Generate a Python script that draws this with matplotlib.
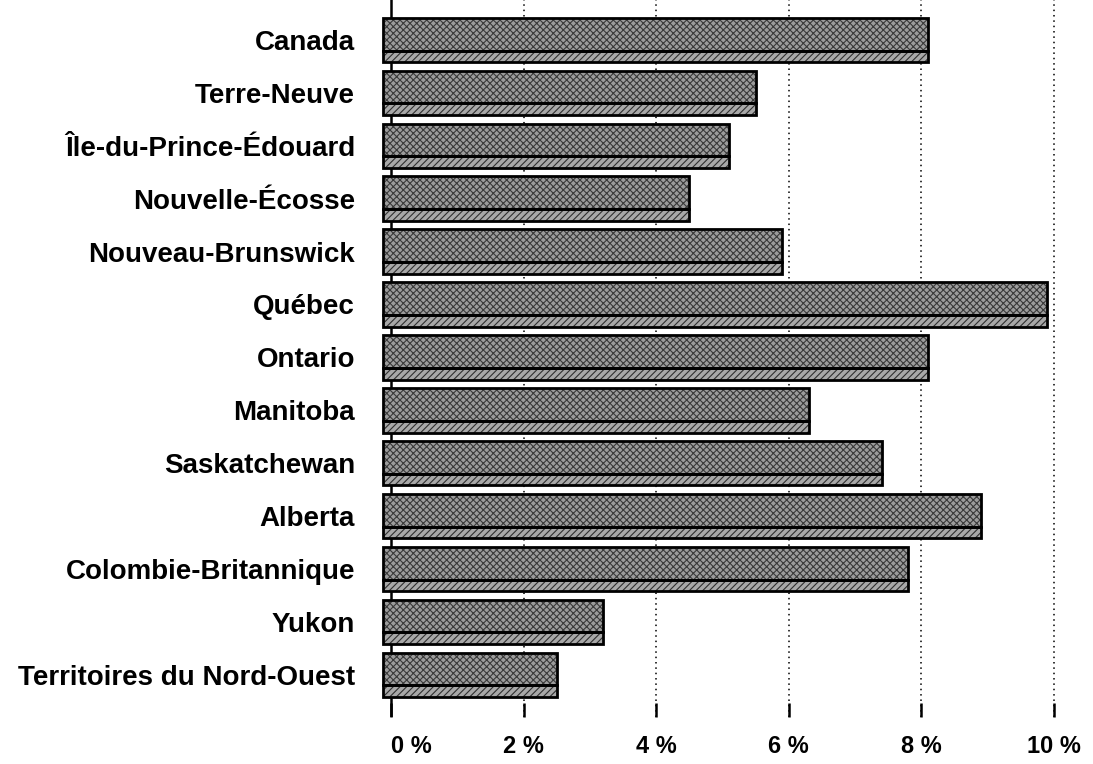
import matplotlib.pyplot as plt
import numpy as np

provinces = [
  'Canada',
  'Terre-Neuve',
  'Île-du-Prince-Édouard',
  'Nouvelle-Écosse',
  'Nouveau-Brunswick',
  'Québec',
  'Ontario',
  'Manitoba',
  'Saskatchewan',
  'Alberta',
  'Colombie-Britannique',
  'Yukon',
  'Territoires du Nord-Ouest',
]
rates = [8.1, 5.5, 5.1, 4.5, 5.9, 9.9, 8.1, 6.3, 7.4, 8.9, 7.8, 3.2, 2.5]
ticks = [0, 2, 4, 6, 8, 10]
tick_labels = ['0 %', '2 %', '4 %', '6 %', '8 %', '10 %']

plt.rcParams['font.family'] = ['Liberation Sans', 'DejaVu Sans']
plt.rcParams['hatch.linewidth'] = 0.8

W, H = 1093, 764
fig = plt.figure(figsize=(W / 100, H / 100), dpi=100)
# axes in pixel terms: 0 % at x=391, 10 % at x=1054
ax = fig.add_axes([380 / W, (H - 717) / H, (1064 - 380) / W, 717 / H])

px_per_unit = (1054 - 391) / 10
ax.set_xlim(-(391 - 380) / px_per_unit, 10 + (1064 - 1054) / px_per_unit)
ax.set_ylim((717 - 40) / 52.9, -40 / 52.9)

y = np.arange(len(provinces))
widths = np.array(rates)
face_h = 0.62
shadow_h = 0.22
x0 = -0.12

# front face
ax.barh(y - shadow_h / 2, widths - x0, left=x0, height=face_h,
        color='#9c9c9c', hatch='xxxxx', edgecolor='#3a3a3a', linewidth=0, zorder=3)
ax.barh(y - shadow_h / 2, widths - x0, left=x0, height=face_h,
        facecolor='none', edgecolor='black', linewidth=2.0, zorder=4)
# lower strip (3D depth)
ax.barh(y + face_h / 2, widths - x0, left=x0, height=shadow_h,
        color='#a8a8a8', hatch='/////', edgecolor='#303030', linewidth=0, zorder=3)
ax.barh(y + face_h / 2, widths - x0, left=x0, height=shadow_h,
        facecolor='none', edgecolor='black', linewidth=2.0, zorder=4)

for t in ticks[1:]:
  ax.axvline(t, color='black', linestyle=(0, (1, 2.5)), linewidth=1.1, zorder=1)
ax.axvline(0, color='black', linewidth=1.8, zorder=2)

ax.set_xticks(ticks)
ax.set_xticklabels(tick_labels, fontsize=17, fontweight='bold')
ax.tick_params(axis='x', direction='in', length=10, width=1.8, pad=13)
ax.set_yticks(y)
ax.set_yticklabels(provinces, fontsize=20, fontweight='bold')
ax.tick_params(axis='y', length=0, pad=18)
ax.get_xticklabels()[0].set_ha('left')

for s in ax.spines.values():
  s.set_visible(False)

fig.savefig('out.png', dpi=100)
